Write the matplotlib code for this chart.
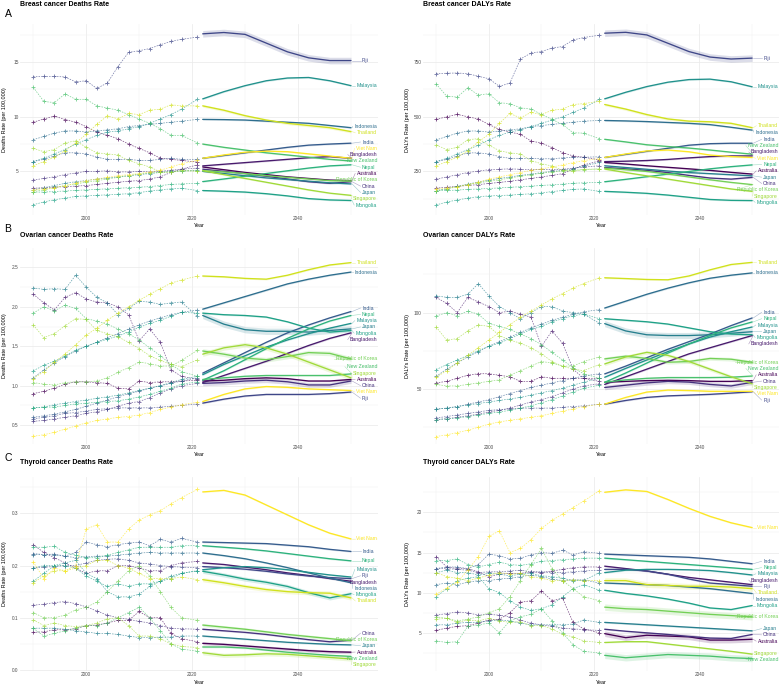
import numpy as np
import matplotlib
matplotlib.use("Agg")
import matplotlib.pyplot as plt
from matplotlib.ticker import MultipleLocator

plt.rcParams['font.family'] = ['Liberation Sans', 'DejaVu Sans']

countries = ["Australia", "Bangladesh", "China", "Fiji", "India", "Indonesia", "Japan",
             "Malaysia", "Mongolia", "Nepal", "New Zealand", "Republic of Korea",
             "Singapore", "Thailand", "Viet Nam"]
hist_years = [1990, 1992, 1994, 1996, 1998, 2000, 2002, 2004, 2006, 2008, 2010, 2012, 2014, 2016, 2018, 2021]
fc_years = [2022, 2026, 2030, 2034, 2038, 2042, 2046, 2050]

# ---------------- Breast cancer deaths ----------------
breast_deaths_hist = {
    "Australia": [9.5, 9.8, 10.06, 9.75, 9.5, 9.1, 8.6, 8.3, 8.0, 7.5, 7.1, 6.7, 6.2, 6.1, 6.0, 5.85],
    "Bangladesh": [3.45, 3.5, 3.55, 3.6, 3.65, 3.7, 3.8, 3.9, 4.0, 4.1, 4.15, 4.3, 4.5, 4.9, 5.2, 5.6],
    "China": [4.2, 4.35, 4.5, 4.7, 4.85, 5.0, 5.0, 5.05, 4.95, 4.95, 5.0, 4.95, 5.0, 5.1, 5.2, 5.3],
    "Fiji": [13.66, 13.7, 13.7, 13.65, 13.2, 13.3, 12.6, 13.1, 14.6, 15.9, 16.05, 16.25, 16.6, 16.9, 17.1, 17.3],
    "India": [5.9, 6.1, 6.4, 6.7, 6.7, 6.6, 6.3, 6.1, 6.1, 6.1, 6.0, 6.0, 6.1, 6.2, 6.1, 6.1],
    "Indonesia": [7.9, 8.2, 8.5, 8.7, 8.7, 8.6, 8.7, 8.8, 8.9, 9.1, 9.2, 9.3, 9.4, 9.5, 9.6, 9.76],
    "Japan": [3.3, 3.5, 3.7, 3.9, 4.05, 4.15, 4.3, 4.4, 4.5, 4.6, 4.7, 4.8, 4.9, 5.0, 5.05, 5.1],
    "Malaysia": [5.9, 6.2, 6.6, 7.0, 7.5, 7.9, 8.3, 8.6, 8.7, 8.9, 9.1, 9.4, 9.8, 10.2, 10.7, 11.6],
    "Mongolia": [1.94, 2.2, 2.4, 2.55, 2.7, 2.75, 2.8, 2.85, 2.9, 2.95, 3.05, 3.2, 3.3, 3.4, 3.45, 3.24],
    "Nepal": [3.1, 3.1, 3.15, 3.2, 3.25, 3.3, 3.35, 3.4, 3.45, 3.5, 3.55, 3.6, 3.7, 3.8, 3.85, 3.9],
    "New Zealand": [12.7, 11.4, 11.3, 12.1, 11.6, 11.6, 11.0, 10.8, 10.6, 10.2, 9.8, 9.4, 8.9, 8.3, 8.3, 7.6],
    "Republic of Korea": [3.15, 3.3, 3.5, 3.7, 3.85, 4.0, 4.15, 4.3, 4.45, 4.6, 4.75, 4.85, 4.9, 4.95, 5.0, 5.06],
    "Singapore": [7.1, 6.8, 7.0, 7.6, 7.8, 7.2, 6.7, 6.6, 6.5, 6.0, 5.7, 5.4, 4.95, 4.9, 5.1, 5.0],
    "Thailand": [5.5, 5.9, 6.3, 6.9, 7.6, 8.4, 9.3, 10.1, 9.8, 10.3, 10.2, 10.6, 10.7, 11.1, 11.0, 11.0],
    "Viet Nam": [3.33, 3.4, 3.5, 3.7, 3.9, 4.15, 4.3, 4.45, 4.6, 4.7, 4.8, 4.95, 5.1, 5.4, 5.7, 6.0],
}
breast_deaths_fc = {
    "Australia": [5.4, 5.15, 4.9, 4.7, 4.5, 4.35, 4.2, 4.15],
    "Bangladesh": [5.5, 5.65, 5.8, 5.95, 6.1, 6.25, 6.35, 6.2],
    "China": [5.2, 5.0, 4.8, 4.55, 4.3, 4.05, 3.9, 4.05],
    "Fiji": [17.6, 17.72, 17.55, 16.75, 15.95, 15.4, 15.15, 15.15],
    "India": [6.2, 6.45, 6.7, 6.95, 7.2, 7.4, 7.5, 7.58],
    "Indonesia": [9.76, 9.74, 9.7, 9.6, 9.5, 9.4, 9.2, 9.0],
    "Japan": [5.0, 4.8, 4.6, 4.4, 4.25, 4.1, 3.95, 3.85],
    "Malaysia": [11.64, 12.3, 12.85, 13.3, 13.55, 13.6, 13.3, 12.85],
    "Mongolia": [3.24, 3.18, 3.1, 2.95, 2.75, 2.5, 2.38, 2.33],
    "Nepal": [4.06, 4.3, 4.55, 4.8, 5.05, 5.3, 5.5, 5.6],
    "New Zealand": [7.5, 7.2, 6.95, 6.7, 6.5, 6.3, 6.1, 5.95],
    "Republic of Korea": [5.06, 4.95, 4.8, 4.6, 4.45, 4.3, 4.15, 4.1],
    "Singapore": [5.06, 4.7, 4.35, 4.0, 3.65, 3.3, 3.0, 2.8],
    "Thailand": [11.0, 10.6, 10.1, 9.7, 9.4, 9.2, 9.0, 8.64],
    "Viet Nam": [6.2, 6.5, 6.75, 6.85, 6.8, 6.6, 6.4, 6.2],
}
breast_deaths_ci = {"Fiji": 0.3, "Thailand": 0.12}

# ---------------- Breast cancer DALYs ----------------
breast_dalys_hist = {
    "Australia": [488, 500, 511, 500, 490, 465, 442, 430, 420, 389, 380, 359, 336, 321, 315, 303],
    "Bangladesh": [174, 178, 182, 186, 190, 195, 200, 205, 212, 218, 225, 232, 240, 260, 280, 298],
    "China": [215, 225, 235, 245, 252, 258, 260, 262, 260, 258, 260, 258, 260, 265, 270, 276],
    "Fiji": [697, 699, 700, 697, 685, 674, 639, 654, 764, 791, 798, 814, 821, 851, 862, 873],
    "India": [295, 305, 320, 335, 335, 330, 318, 310, 310, 310, 308, 308, 312, 315, 315, 317],
    "Indonesia": [394, 410, 425, 435, 435, 430, 435, 440, 445, 455, 460, 465, 470, 475, 480, 483],
    "Japan": [162, 172, 182, 192, 202, 210, 218, 225, 232, 238, 245, 250, 255, 262, 275, 291],
    "Malaysia": [295, 310, 330, 350, 370, 395, 415, 430, 440, 455, 470, 485, 500, 520, 540, 579],
    "Mongolia": [97, 110, 120, 128, 135, 138, 140, 142, 145, 148, 152, 158, 163, 168, 170, 159],
    "Nepal": [162, 163, 165, 168, 170, 172, 175, 178, 180, 183, 186, 189, 192, 196, 198, 200],
    "New Zealand": [650, 594, 590, 632, 600, 605, 564, 560, 541, 535, 511, 488, 465, 427, 425, 400],
    "Republic of Korea": [162, 170, 180, 190, 198, 205, 212, 220, 228, 235, 242, 248, 252, 256, 258, 262],
    "Singapore": [371, 350, 360, 395, 400, 370, 345, 335, 330, 300, 285, 275, 255, 250, 260, 261],
    "Thailand": [276, 295, 315, 345, 385, 420, 470, 515, 495, 520, 510, 530, 535, 556, 560, 571],
    "Viet Nam": [170, 175, 180, 190, 200, 215, 225, 235, 245, 255, 262, 270, 280, 290, 300, 309],
}
breast_dalys_fc = {
    "Australia": [291, 284, 276, 269, 262, 255, 246, 238],
    "Bangladesh": [295, 297, 300, 305, 312, 318, 321, 321],
    "China": [268, 262, 255, 245, 232, 220, 215, 223],
    "Fiji": [882, 886, 874, 836, 798, 773, 764, 768],
    "India": [314, 328, 342, 356, 370, 377, 379, 379],
    "Indonesia": [483, 481, 478, 474, 470, 464, 452, 439],
    "Japan": [276, 268, 260, 252, 245, 240, 235, 230],
    "Malaysia": [582, 612, 638, 658, 670, 672, 660, 637],
    "Mongolia": [159, 155, 150, 142, 132, 122, 118, 117],
    "Nepal": [203, 214, 226, 238, 250, 262, 272, 280],
    "New Zealand": [397, 385, 372, 364, 357, 348, 338, 329],
    "Republic of Korea": [265, 258, 250, 238, 225, 212, 200, 190],
    "Singapore": [261, 245, 230, 215, 200, 185, 170, 159],
    "Thailand": [556, 535, 510, 490, 480, 477, 470, 450],
    "Viet Nam": [314, 330, 344, 348, 340, 325, 318, 314],
}
breast_dalys_ci = {"Fiji": 15, "Thailand": 6}

# ---------------- Ovarian cancer deaths ----------------
ovarian_deaths_hist = {
    "Australia": [0.90, 0.93, 0.97, 1.02, 1.05, 1.05, 1.04, 1.03, 0.97, 0.96, 1.06, 1.04, 1.05, 1.05, 1.06, 1.07],
    "Bangladesh": [2.16, 2.05, 1.96, 2.12, 2.18, 2.10, 2.06, 2.05, 2.00, 1.90, 1.57, 1.72, 1.55, 1.20, 1.12, 1.08],
    "China": [0.55, 0.56, 0.58, 0.60, 0.62, 0.65, 0.67, 0.70, 0.74, 0.78, 0.80, 0.85, 0.91, 0.96, 1.00, 1.03],
    "Fiji": [0.58, 0.60, 0.62, 0.65, 0.66, 0.68, 0.70, 0.71, 0.72, 0.72, 0.72, 0.72, 0.73, 0.74, 0.75, 0.77],
    "India": [0.60, 0.62, 0.64, 0.67, 0.70, 0.74, 0.78, 0.82, 0.86, 0.90, 0.93, 0.97, 1.00, 1.03, 1.06, 1.10],
    "Indonesia": [1.10, 1.20, 1.29, 1.37, 1.44, 1.50, 1.55, 1.61, 1.66, 1.72, 1.77, 1.82, 1.86, 1.90, 1.93, 1.96],
    "Japan": [2.24, 2.22, 2.23, 2.22, 2.40, 2.25, 2.12, 2.05, 1.90, 1.98, 2.07, 2.06, 2.03, 2.05, 2.06, 1.88],
    "Malaysia": [0.72, 0.73, 0.76, 0.78, 0.80, 0.82, 0.84, 0.86, 0.88, 0.91, 0.94, 0.97, 1.00, 1.04, 1.08, 1.12],
    "Mongolia": [1.19, 1.26, 1.31, 1.38, 1.45, 1.50, 1.55, 1.59, 1.63, 1.68, 1.74, 1.79, 1.83, 1.88, 1.93, 1.92],
    "Nepal": [0.72, 0.73, 0.73, 0.75, 0.77, 0.78, 0.79, 0.80, 0.81, 0.83, 0.86, 0.89, 0.93, 0.97, 1.02, 1.05],
    "New Zealand": [1.92, 2.00, 1.95, 2.02, 1.98, 1.85, 1.82, 1.78, 1.72, 1.66, 1.58, 1.48, 1.38, 1.27, 1.18, 1.12],
    "Republic of Korea": [1.04, 1.02, 1.01, 1.04, 1.05, 1.05, 1.06, 1.10, 1.17, 1.23, 1.30, 1.28, 1.25, 1.25, 1.32, 1.45],
    "Singapore": [1.77, 1.61, 1.66, 1.76, 1.85, 1.84, 1.70, 1.66, 1.62, 1.55, 1.47, 1.38, 1.32, 1.27, 1.24, 1.33],
    "Thailand": [1.09, 1.18, 1.30, 1.40, 1.52, 1.64, 1.73, 1.83, 1.92, 2.00, 2.08, 2.16, 2.23, 2.30, 2.34, 2.39],
    "Viet Nam": [0.36, 0.38, 0.41, 0.45, 0.49, 0.53, 0.56, 0.58, 0.60, 0.61, 0.63, 0.66, 0.70, 0.73, 0.76, 0.79],
}
ovarian_deaths_fc = {
    "Australia": [1.06, 1.07, 1.09, 1.10, 1.09, 1.06, 1.06, 1.08],
    "Bangladesh": [1.04, 1.13, 1.22, 1.31, 1.41, 1.51, 1.60, 1.67],
    "China": [1.03, 1.04, 1.06, 1.07, 1.05, 1.01, 1.01, 1.06],
    "Fiji": [0.78, 0.83, 0.87, 0.89, 0.89, 0.89, 0.90, 0.92],
    "India": [1.16, 1.29, 1.42, 1.55, 1.67, 1.77, 1.86, 1.94],
    "Indonesia": [1.97, 2.05, 2.13, 2.21, 2.29, 2.35, 2.40, 2.44],
    "Japan": [1.89, 1.78, 1.71, 1.69, 1.69, 1.68, 1.70, 1.72],
    "Malaysia": [1.14, 1.27, 1.38, 1.49, 1.58, 1.66, 1.73, 1.79],
    "Mongolia": [1.92, 1.90, 1.89, 1.87, 1.81, 1.73, 1.68, 1.70],
    "Nepal": [1.07, 1.19, 1.33, 1.47, 1.60, 1.72, 1.82, 1.89],
    "New Zealand": [1.08, 1.10, 1.12, 1.13, 1.13, 1.13, 1.13, 1.15],
    "Republic of Korea": [1.44, 1.40, 1.35, 1.33, 1.37, 1.42, 1.41, 1.34],
    "Singapore": [1.40, 1.48, 1.52, 1.48, 1.40, 1.30, 1.20, 1.10],
    "Thailand": [2.39, 2.38, 2.36, 2.35, 2.40, 2.47, 2.53, 2.56],
    "Viet Nam": [0.80, 0.89, 0.96, 0.99, 0.98, 0.96, 0.95, 0.94],
}
ovarian_deaths_ci = {"Japan": 0.04, "China": 0.03, "Republic of Korea": 0.03, "Singapore": 0.03}

# ---------------- Ovarian cancer DALYs ----------------
ovarian_dalys_hist = {
    "Australia": [54, 55, 57, 59, 60, 60, 59, 58, 55, 55, 58, 57, 57, 57, 57, 57],
    "Bangladesh": [110, 106, 100, 110, 107, 104, 100, 101, 99, 97, 78, 88, 80, 63, 57, 55],
    "China": [30, 30.5, 31.5, 32.5, 33.5, 35, 36, 37.5, 39.5, 41.5, 43, 45, 47.5, 50, 52, 53.5],
    "Fiji": [31, 32, 33, 34, 35, 36, 36.5, 37, 37.5, 37.5, 37.5, 37.5, 38, 38.5, 39, 40],
    "India": [36.8, 37.5, 38.5, 40, 41.5, 43, 45, 47, 49, 51, 52.5, 54, 55.5, 57, 58.5, 60],
    "Indonesia": [58.3, 63, 67, 71, 74.5, 78, 81, 84, 87, 90, 92.5, 95, 97, 99, 100.5, 102],
    "Japan": [111, 110, 110, 112, 119, 111, 104, 100, 96, 100, 104, 104, 101, 100, 99, 93],
    "Malaysia": [36.8, 37.5, 38.5, 39.5, 40.5, 41.5, 42.5, 43.5, 44.5, 46, 47.5, 49, 50.5, 52.5, 54.5, 57],
    "Mongolia": [62.7, 66, 69, 72, 75, 78, 80, 83, 86, 89, 91, 94, 96, 98, 99, 96],
    "Nepal": [30, 30.5, 31, 32, 33, 34, 35, 36, 37.5, 39, 41, 43, 45.5, 48, 50.5, 52.5],
    "New Zealand": [97.8, 100, 98, 101, 99, 93, 91, 89, 86, 83, 79, 74, 69, 64, 60, 57],
    "Republic of Korea": [53, 52, 52, 53, 54, 55, 56, 59, 62, 65, 68, 67, 65, 65, 68, 71],
    "Singapore": [90.6, 82, 83, 88, 92, 91, 85, 82, 80, 77, 73, 68, 65, 63, 62, 66],
    "Thailand": [57.7, 62, 67, 72, 77, 82, 87, 92, 97, 101, 105, 109, 112.5, 116, 119, 122.8],
    "Viet Nam": [18.9, 20, 21.5, 23, 25, 27, 28.5, 29.5, 30.5, 31.5, 32.5, 34, 35.5, 37, 38.5, 40],
}
ovarian_dalys_fc = {
    "Australia": [54.4, 55, 55.5, 55.7, 55.5, 55, 55, 55.5],
    "Bangladesh": [53, 58, 63, 68, 73, 77, 81, 85],
    "China": [51, 52.5, 54, 55, 54.5, 53, 52, 54.4],
    "Fiji": [40.1, 42.5, 44.5, 45.5, 46, 46.5, 47.3, 48.2],
    "India": [59.9, 65, 70.5, 76, 81, 86, 91.5, 96.5],
    "Indonesia": [103, 107.5, 112, 116, 119.5, 122.5, 124.5, 126],
    "Japan": [92.8, 88, 85.5, 85, 85, 85.5, 86.5, 87.5],
    "Malaysia": [57.7, 63.5, 69, 74.5, 79.5, 84, 87.5, 90.6],
    "Mongolia": [96, 95, 94, 92.5, 90, 87.5, 86, 85.5],
    "Nepal": [54.4, 60.5, 67, 73.5, 79.5, 85, 90, 93.9],
    "New Zealand": [54.4, 56, 57, 57.5, 57.5, 57.5, 57.7, 58.5],
    "Republic of Korea": [69.7, 71.5, 70, 67.5, 68, 70, 69.5, 67.5],
    "Singapore": [66.4, 71, 74, 72, 68, 63, 58, 53.5],
    "Thailand": [122.8, 122.3, 121.7, 121.5, 124, 128, 131.5, 132.9],
    "Viet Nam": [40.1, 44.5, 48, 49.3, 49, 48.5, 48.5, 48.5],
}
ovarian_dalys_ci = {"Japan": 2.0, "China": 1.5, "Republic of Korea": 1.2, "Singapore": 1.2}

# ---------------- Thyroid cancer deaths ----------------
thyroid_deaths_hist = {
    "Australia": [0.072, 0.073, 0.077, 0.077, 0.079, 0.085, 0.086, 0.090, 0.095, 0.095, 0.112, 0.100, 0.100, 0.070, 0.060, 0.054],
    "Bangladesh": [0.240, 0.225, 0.215, 0.205, 0.195, 0.185, 0.190, 0.190, 0.200, 0.200, 0.195, 0.190, 0.190, 0.200, 0.205, 0.208],
    "China": [0.124, 0.126, 0.129, 0.131, 0.127, 0.121, 0.113, 0.105, 0.100, 0.097, 0.093, 0.090, 0.085, 0.080, 0.079, 0.078],
    "Fiji": [0.195, 0.197, 0.198, 0.200, 0.200, 0.205, 0.210, 0.212, 0.213, 0.210, 0.205, 0.203, 0.200, 0.198, 0.197, 0.196],
    "India": [0.223, 0.221, 0.222, 0.218, 0.225, 0.245, 0.240, 0.236, 0.240, 0.243, 0.245, 0.238, 0.250, 0.245, 0.252, 0.245],
    "Indonesia": [0.221, 0.221, 0.220, 0.218, 0.215, 0.217, 0.218, 0.218, 0.220, 0.222, 0.224, 0.225, 0.224, 0.224, 0.224, 0.224],
    "Japan": [0.080, 0.080, 0.080, 0.078, 0.075, 0.073, 0.070, 0.070, 0.068, 0.065, 0.062, 0.062, 0.063, 0.063, 0.065, 0.065],
    "Malaysia": [0.195, 0.200, 0.200, 0.205, 0.210, 0.185, 0.175, 0.150, 0.140, 0.140, 0.145, 0.160, 0.170, 0.180, 0.185, 0.190],
    "Mongolia": [0.170, 0.185, 0.200, 0.200, 0.195, 0.180, 0.170, 0.160, 0.165, 0.160, 0.165, 0.165, 0.170, 0.175, 0.185, 0.190],
    "Nepal": [0.235, 0.235, 0.237, 0.225, 0.220, 0.215, 0.215, 0.220, 0.225, 0.230, 0.235, 0.235, 0.235, 0.235, 0.238, 0.238],
    "New Zealand": [0.080, 0.065, 0.070, 0.075, 0.080, 0.085, 0.085, 0.090, 0.100, 0.110, 0.120, 0.100, 0.075, 0.050, 0.040, 0.036],
    "Republic of Korea": [0.110, 0.100, 0.100, 0.105, 0.115, 0.120, 0.130, 0.150, 0.170, 0.190, 0.200, 0.180, 0.150, 0.120, 0.100, 0.095],
    "Singapore": [0.096, 0.085, 0.090, 0.085, 0.083, 0.085, 0.090, 0.098, 0.100, 0.085, 0.065, 0.065, 0.060, 0.050, 0.045, 0.043],
    "Thailand": [0.167, 0.180, 0.190, 0.190, 0.195, 0.200, 0.210, 0.210, 0.200, 0.195, 0.185, 0.175, 0.175, 0.175, 0.178, 0.173],
    "Viet Nam": [0.207, 0.175, 0.195, 0.190, 0.200, 0.270, 0.278, 0.245, 0.245, 0.270, 0.287, 0.297, 0.305, 0.318, 0.330, 0.346],
}
thyroid_deaths_fc = {
    "Australia": [0.051, 0.049, 0.046, 0.043, 0.040, 0.037, 0.035, 0.034],
    "Bangladesh": [0.205, 0.202, 0.197, 0.192, 0.186, 0.181, 0.175, 0.170],
    "China": [0.078, 0.075, 0.072, 0.068, 0.063, 0.058, 0.054, 0.057],
    "Fiji": [0.198, 0.196, 0.193, 0.189, 0.184, 0.180, 0.177, 0.175],
    "India": [0.245, 0.244, 0.243, 0.242, 0.239, 0.236, 0.231, 0.227],
    "Indonesia": [0.224, 0.219, 0.213, 0.205, 0.196, 0.186, 0.176, 0.167],
    "Japan": [0.065, 0.062, 0.059, 0.056, 0.053, 0.051, 0.049, 0.048],
    "Malaysia": [0.192, 0.196, 0.198, 0.196, 0.192, 0.187, 0.182, 0.178],
    "Mongolia": [0.189, 0.182, 0.174, 0.168, 0.160, 0.148, 0.138, 0.146],
    "Nepal": [0.238, 0.235, 0.232, 0.228, 0.223, 0.218, 0.213, 0.209],
    "New Zealand": [0.044, 0.044, 0.042, 0.038, 0.034, 0.031, 0.028, 0.026],
    "Republic of Korea": [0.086, 0.082, 0.078, 0.073, 0.068, 0.064, 0.060, 0.056],
    "Singapore": [0.033, 0.028, 0.029, 0.031, 0.030, 0.027, 0.024, 0.021],
    "Thailand": [0.173, 0.167, 0.160, 0.154, 0.150, 0.148, 0.147, 0.138],
    "Viet Nam": [0.341, 0.344, 0.335, 0.316, 0.297, 0.278, 0.262, 0.251],
}
thyroid_deaths_ci = {"Mongolia": 0.004, "Thailand": 0.004, "Singapore": 0.004,
                     "Republic of Korea": 0.003, "Australia": 0.003}

# ---------------- Thyroid cancer DALYs ----------------
thyroid_dalys_hist = {
    "Australia": [5.3, 5.6, 5.8, 5.9, 6.2, 6.6, 6.7, 7.5, 8.8, 9.0, 10.2, 9.0, 9.3, 6.3, 5.5, 5.0],
    "Bangladesh": [14.5, 13.2, 13.0, 13.0, 12.6, 12.0, 12.3, 12.4, 12.4, 12.6, 12.5, 12.7, 12.9, 13.1, 13.2, 13.2],
    "China": [7.2, 7.4, 7.6, 7.5, 7.2, 7.3, 7.2, 7.0, 6.6, 6.2, 6.0, 5.8, 5.6, 5.5, 5.4, 5.3],
    "Fiji": [13.0, 13.0, 12.9, 12.8, 12.5, 12.6, 12.6, 12.7, 12.8, 12.6, 12.6, 12.5, 12.5, 12.6, 12.7, 12.8],
    "India": [13.0, 13.2, 13.2, 13.0, 13.5, 14.8, 14.6, 14.2, 14.3, 14.7, 15.0, 14.9, 15.3, 14.7, 15.1, 14.9],
    "Indonesia": [11.0, 11.2, 11.0, 11.3, 11.5, 11.5, 11.7, 11.8, 12.0, 12.2, 12.0, 11.7, 11.5, 11.6, 11.6, 11.2],
    "Japan": [6.0, 6.0, 6.2, 6.3, 6.3, 6.5, 6.6, 6.5, 6.2, 6.0, 6.0, 6.0, 6.0, 6.1, 6.6, 6.3],
    "Malaysia": [12.5, 12.8, 12.5, 12.5, 12.2, 12.4, 12.3, 12.1, 12.3, 12.4, 12.1, 12.0, 11.8, 11.5, 11.5, 12.5],
    "Mongolia": [9.5, 10.5, 11.5, 11.8, 12.0, 10.5, 10.0, 9.0, 8.2, 7.8, 8.0, 8.5, 9.5, 10.5, 11.0, 10.3],
    "Nepal": [14.0, 14.0, 14.2, 13.5, 13.2, 13.5, 13.8, 13.5, 13.4, 13.6, 13.9, 14.0, 14.1, 14.2, 14.3, 14.3],
    "New Zealand": [4.0, 3.8, 3.9, 5.8, 6.0, 6.2, 5.0, 6.5, 7.0, 7.3, 8.0, 6.5, 5.0, 3.5, 2.7, 2.5],
    "Republic of Korea": [7.0, 6.8, 6.5, 6.7, 7.0, 7.5, 8.0, 9.5, 11.5, 13.5, 15.5, 13.0, 11.5, 10.5, 9.5, 9.0],
    "Singapore": [6.7, 6.8, 6.3, 6.6, 6.5, 6.8, 6.5, 6.3, 6.4, 5.9, 5.9, 5.5, 4.8, 4.5, 4.0, 3.8],
    "Thailand": [12.5, 12.0, 11.8, 11.5, 11.8, 12.2, 12.5, 12.3, 12.4, 12.0, 11.8, 11.5, 11.5, 11.6, 11.5, 11.5],
    "Viet Nam": [9.8, 10.6, 11.3, 12.8, 14.5, 17.0, 17.7, 15.0, 15.5, 16.6, 18.0, 19.0, 19.8, 20.6, 21.4, 22.7],
}
thyroid_dalys_fc = {
    "Australia": [4.9, 4.4, 4.7, 4.6, 4.5, 4.1, 4.1, 4.2],
    "Bangladesh": [13.3, 13.0, 12.7, 12.3, 11.9, 11.6, 11.3, 11.0],
    "China": [5.45, 5.2, 5.0, 4.8, 4.55, 4.35, 4.3, 4.8],
    "Fiji": [12.9, 12.9, 12.7, 12.3, 11.7, 11.2, 11.0, 10.8],
    "India": [14.8, 14.7, 14.6, 14.5, 14.4, 14.2, 13.9, 13.6],
    "Indonesia": [11.2, 11.1, 11.0, 10.9, 10.7, 10.5, 10.2, 9.9],
    "Japan": [6.3, 6.15, 6.0, 5.85, 5.7, 5.55, 5.4, 5.25],
    "Malaysia": [12.5, 12.8, 12.9, 12.9, 12.85, 12.75, 12.5, 12.2],
    "Mongolia": [10.3, 9.9, 9.6, 9.2, 8.7, 8.1, 7.9, 8.4],
    "Nepal": [14.3, 14.1, 13.9, 13.7, 13.5, 13.3, 13.1, 12.9],
    "New Zealand": [2.2, 1.9, 2.1, 2.3, 2.2, 2.1, 1.9, 1.8],
    "Republic of Korea": [8.2, 8.0, 7.9, 7.7, 7.5, 7.3, 7.15, 7.0],
    "Singapore": [3.8, 3.9, 3.9, 3.6, 3.3, 3.0, 2.7, 2.35],
    "Thailand": [11.5, 11.5, 11.0, 10.9, 10.8, 10.8, 10.7, 10.5],
    "Viet Nam": [22.5, 22.8, 22.6, 21.6, 20.5, 19.5, 18.7, 18.1],
}
thyroid_dalys_ci = {"Australia": 0.35, "New Zealand": 0.4, "Republic of Korea": 0.4, "Thailand": 0.35}

panels = [
    ("Breast cancer Deaths Rate", "Deaths Rate (per 100,000)", breast_deaths_hist, breast_deaths_fc, breast_deaths_ci),
    ("Breast cancer DALYs Rate", "DALYs Rate (per 100,000)", breast_dalys_hist, breast_dalys_fc, breast_dalys_ci),
    ("Ovarian cancer Deaths Rate", "Deaths Rate (per 100,000)", ovarian_deaths_hist, ovarian_deaths_fc, ovarian_deaths_ci),
    ("Ovarian cancer DALYs Rate", "DALYs Rate (per 100,000)", ovarian_dalys_hist, ovarian_dalys_fc, ovarian_dalys_ci),
    ("Thyroid cancer Deaths Rate", "Deaths Rate (per 100,000)", thyroid_deaths_hist, thyroid_deaths_fc, thyroid_deaths_ci),
    ("Thyroid cancer DALYs Rate", "DALYs Rate (per 100,000)", thyroid_dalys_hist, thyroid_dalys_fc, thyroid_dalys_ci),
]

# layout (pixels)
W, H = 783, 688
col_x = [(20, 378), (423, 779)]
row_y = [(24, 215), (248, 444), (477, 671)]
ylims = [(1.0, 18.5), (51, 924), (0.262, 2.745), (14.0, 142.3), (-0.002, 0.3696), (0.25, 24.4)]
ysteps = [5, 250, 0.5, 50, 0.1, 5]
tags = [("A", 14), ("B", 229), ("C", 458)]
title_y = [5, 235, 463]
xlabel_y = [225.5, 454, 683]

colors = dict(zip(countries, plt.get_cmap("viridis")(np.linspace(0, 1, len(countries)))))

fig = plt.figure(figsize=(W / 100, H / 100), dpi=100)
renderer = fig.canvas.get_renderer()


def spread(vals, gap, lo, hi):
    order = np.argsort(vals)
    p = np.array(vals, float)[order]
    for _ in range(400):
        for i in range(1, len(p)):
            if p[i] - p[i - 1] < gap:
                m = (p[i] + p[i - 1]) / 2
                p[i - 1] = m - gap / 2
                p[i] = m + gap / 2
        p = np.clip(p, lo, hi)
    out = np.empty_like(p)
    out[order] = p
    return out


for k, (title, ylab, hist, fc, ci) in enumerate(panels):
    r, c = divmod(k, 2)
    x0, x1 = col_x[c]
    y0, y1 = row_y[r]
    ax = fig.add_axes([x0 / W, 1 - y1 / H, (x1 - x0) / W, (y1 - y0) / H])
    ylo, yhi = ylims[k]
    ax.set_xlim(1987.5, 2055.1)
    ax.set_ylim(ylo, yhi)
    ax.xaxis.set_major_locator(MultipleLocator(20))
    ax.xaxis.set_minor_locator(MultipleLocator(10))
    ax.yaxis.set_major_locator(MultipleLocator(ysteps[k]))
    ax.yaxis.set_minor_locator(MultipleLocator(ysteps[k] / 2))
    ax.grid(which="major", color="#EBEBEB", lw=0.55)
    ax.grid(which="minor", color="#F2F2F2", lw=0.35)
    ax.set_axisbelow(True)
    for s in ax.spines.values():
        s.set_visible(False)
    ax.tick_params(which="both", length=0, labelsize=3.4, labelcolor="#4D4D4D", pad=1.0)

    default_ci = (yhi - ylo) * 0.004
    for name in countries:
        col = colors[name]
        ax.plot(hist_years, hist[name], ls=(0, (2.2, 1.6)), lw=0.5, color=col, alpha=0.7,
                marker="+", ms=2.2, mew=0.65)
        f = np.array(fc[name], float)
        h = ci.get(name, default_ci)
        ax.fill_between(fc_years, f - h, f + h, color=col, alpha=0.18, lw=0)
        ax.plot(fc_years, f, lw=0.95, color=col, solid_capstyle="round")

    # end labels, spread in pixel space
    hpx = y1 - y0
    ends = [fc[n][-1] for n in countries]
    ends_px = [(v - ylo) / (yhi - ylo) * hpx for v in ends]
    lab_px = spread(ends_px, 6.3, 3, hpx - 3)
    for name, ev, lp in zip(countries, ends, lab_px):
        lv = ylo + lp / hpx * (yhi - ylo)
        t = ax.text(2052.1, lv, name, fontsize=3.7, color=colors[name], ha="left", va="center")
        bb = t.get_window_extent(renderer=renderer)
        axbb = ax.get_window_extent(renderer=renderer)
        wpx = bb.width
        left_px_default = axbb.x0 + (2052.1 - 1987.5) / (2055.1 - 1987.5) * axbb.width
        if left_px_default + wpx > axbb.x1 - 1:
            left_x = 2055.1 - (wpx + 1) / axbb.width * (2055.1 - 1987.5)
            t.set_x(left_x)
        else:
            left_x = 2052.1
        ax.plot([2050.2, left_x - 0.3], [ev, lv], color=colors[name], lw=0.4, alpha=0.45)

    fig.text(x0 / W, 1 - title_y[r] / H, title, fontsize=5.0, fontweight="bold", ha="left", va="center")
    fig.text((x0 + x1) / 2 / W, 1 - xlabel_y[r] / H, "Year", fontsize=3.9, ha="center", va="center")
    ylx = 5 if c == 0 else 407
    fig.text(ylx / W, 1 - (y0 + y1) / 2 / H, ylab, fontsize=3.9, rotation=90, ha="center", va="center")

for letter, ty in tags:
    fig.text(8 / W, 1 - ty / H, letter, fontsize=7.5, ha="center", va="center")

fig.savefig("out.png", dpi=100)
